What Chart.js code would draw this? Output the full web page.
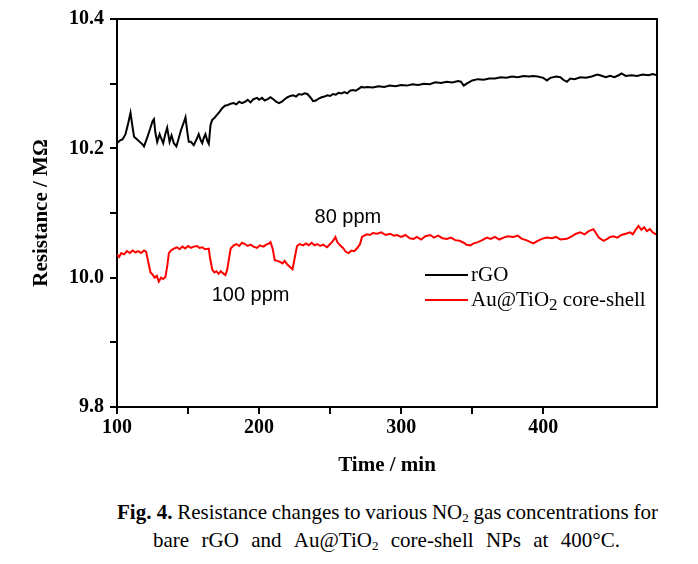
<!DOCTYPE html>
<html>
<head>
<meta charset="utf-8">
<script src="https://cdn.jsdelivr.net/npm/chart.js@4.4.1/dist/chart.umd.min.js"></script>
<style>
    body { margin: 0; background: #fff; }
    #wrap { position: relative; width: 698px; height: 564px; }
    #resistanceChart { position: absolute; left: 0; top: 0; }
    .caption { position: absolute; display: flex; justify-content: space-between; white-space: nowrap;
               font-family: 'Liberation Serif', 'Times New Roman', serif; font-size: 21px; line-height: 28px; color: #000; }
    .caption sub { font-size: 13px; vertical-align: -3px; line-height: 0; }
    #cap1 { left: 117px; top: 498px; width: 541px; }
    #cap2 { left: 153px; top: 526px; width: 467px; }
</style>
</head>
<body>
<div id="wrap">
    <canvas id="resistanceChart" width="698" height="490"></canvas>
    <div class="caption" id="cap1">
        <span><b>Fig.&nbsp;4.</b></span><span>Resistance</span><span>changes</span><span>to</span><span>various</span>
        <span>NO<sub>2</sub></span><span>gas</span><span>concentrations</span><span>for</span>
    </div>
    <div class="caption" id="cap2">
        <span>bare</span><span>rGO</span><span>and</span><span>Au@TiO<sub>2</sub></span><span>core-shell</span>
        <span>NPs</span><span>at</span><span>400°C.</span>
    </div>
</div>
<script>
// rGO trace (time in min, resistance in MOhm)
const rgoTime = [100, 102, 104, 106, 108, 109.5, 111, 112, 114, 116, 118, 119, 121, 123, 125, 126, 127, 128.3, 130, 131,
    132.5, 134, 135.3, 137, 138.4, 140, 141.8, 143, 145, 147, 148.2, 149.5, 150.5, 152, 154, 156, 157.5, 159, 160, 161,
    162.2, 163.5, 164.6, 165.8, 167, 168.5, 170.5, 172, 174, 176, 178, 180, 182, 184, 186, 188, 190, 192, 194, 196,
    198.6, 200, 202, 204, 206, 208, 210, 212, 214, 216, 218, 220, 222, 224, 226, 228, 230, 232, 234, 236,
    238, 240, 242, 244, 246, 248, 250, 252, 254, 256, 258, 260, 262, 264, 266, 268, 270, 272, 274, 276,
    280, 284, 288, 292, 296, 300, 304, 308, 312, 316, 320, 324, 328, 332, 336, 340, 342, 344, 346, 350,
    354, 358, 362, 366, 370, 374, 378, 382, 386, 390, 393, 396, 400, 402.5, 405, 409, 412, 414, 416.6, 419,
    422, 426, 430, 434, 438, 440, 444, 447, 450, 453, 455, 458, 462, 466, 470, 474, 477, 480];
const rgoValue = [10.208, 10.212, 10.214, 10.222, 10.240, 10.255, 10.232, 10.218, 10.214, 10.210, 10.206, 10.203, 10.215, 10.228, 10.242, 10.245, 10.224, 10.210, 10.222, 10.216,
    10.208, 10.222, 10.232, 10.210, 10.220, 10.208, 10.203, 10.212, 10.228, 10.240, 10.248, 10.225, 10.210, 10.210, 10.205, 10.214, 10.222, 10.212, 10.208, 10.216,
    10.222, 10.212, 10.207, 10.236, 10.244, 10.247, 10.252, 10.256, 10.262, 10.266, 10.267, 10.269, 10.270, 10.268, 10.272, 10.270, 10.272, 10.275, 10.271, 10.276,
    10.278, 10.275, 10.278, 10.274, 10.276, 10.279, 10.276, 10.272, 10.270, 10.272, 10.276, 10.279, 10.281, 10.282, 10.280, 10.284, 10.283, 10.285, 10.284, 10.279,
    10.273, 10.274, 10.277, 10.279, 10.280, 10.282, 10.281, 10.284, 10.283, 10.286, 10.285, 10.287, 10.285, 10.289, 10.290, 10.289, 10.292, 10.295, 10.294, 10.295,
    10.294, 10.296, 10.295, 10.297, 10.296, 10.298, 10.297, 10.299, 10.298, 10.300, 10.299, 10.302, 10.301, 10.303, 10.302, 10.304, 10.303, 10.297, 10.300, 10.305,
    10.307, 10.306, 10.308, 10.308, 10.310, 10.309, 10.311, 10.310, 10.312, 10.311, 10.312, 10.311, 10.309, 10.305, 10.309, 10.311, 10.310, 10.306, 10.303, 10.308,
    10.307, 10.310, 10.309, 10.311, 10.314, 10.313, 10.310, 10.312, 10.310, 10.313, 10.316, 10.312, 10.313, 10.312, 10.314, 10.313, 10.315, 10.313];

// Au@TiO2 core-shell trace
const auTime = [100, 101.5, 103, 105, 107, 109, 111, 113, 115, 117, 119, 120.5, 122, 123.6, 125, 126.5, 128, 129.4, 131, 132.5,
    134.1, 135.5, 136.5, 138, 140, 142.3, 144, 146, 148, 150, 152, 154, 156.4, 158, 160, 162, 164.6, 165.5, 167, 168.5,
    170, 171.5, 173, 174.5, 176.3, 177.5, 178.7, 180, 182.2, 184, 186, 188, 190, 192, 194, 196, 198.6, 200.5, 203, 205,
    207, 208, 209.5, 211, 213, 215, 216.5, 218, 220, 222, 223.5, 225, 226.7, 228.5, 231, 233, 235, 237, 239, 241,
    243, 245, 247.8, 250, 252, 253.7, 255, 257, 259, 261, 263, 265, 267, 269.5, 271, 272.4, 274, 276, 278, 280,
    283, 286, 289, 292, 295, 297, 300, 303, 306, 308.7, 311, 314, 317, 320.5, 323, 326, 329, 332.2, 335, 338,
    341, 344, 346, 348.6, 351, 354, 357, 360.3, 363, 366, 369, 372, 375, 379, 382, 385, 388, 391, 393, 396,
    399, 402.5, 406, 409, 412, 416.6, 420, 423, 426, 429, 432, 435.3, 437, 439, 442.4, 445, 447, 449.4, 452, 455,
    458, 461, 463, 465, 467, 469, 471, 472.8, 475, 477, 480];
const auValue = [10.036, 10.032, 10.038, 10.036, 10.041, 10.038, 10.042, 10.039, 10.041, 10.038, 10.042, 10.040, 10.024, 10.008, 10.005, 10.000, 10.003, 9.994, 10.000, 9.998,
    10.001, 10.020, 10.038, 10.042, 10.045, 10.047, 10.044, 10.048, 10.045, 10.049, 10.046, 10.048, 10.049, 10.046, 10.047, 10.044, 10.045, 10.030, 10.013, 10.008,
    10.010, 10.006, 10.010, 10.007, 10.004, 10.012, 10.028, 10.045, 10.050, 10.052, 10.049, 10.054, 10.052, 10.049, 10.051, 10.048, 10.046, 10.050, 10.048, 10.051,
    10.053, 10.055, 10.045, 10.027, 10.026, 10.024, 10.022, 10.026, 10.020, 10.016, 10.013, 10.030, 10.049, 10.052, 10.050, 10.053, 10.050, 10.054, 10.050, 10.052,
    10.049, 10.051, 10.047, 10.052, 10.057, 10.063, 10.055, 10.050, 10.046, 10.040, 10.038, 10.042, 10.041, 10.047, 10.052, 10.063, 10.065, 10.067, 10.066, 10.069,
    10.068, 10.070, 10.066, 10.068, 10.065, 10.066, 10.063, 10.066, 10.061, 10.060, 10.063, 10.059, 10.064, 10.066, 10.062, 10.065, 10.061, 10.060, 10.062, 10.058,
    10.057, 10.054, 10.051, 10.050, 10.053, 10.055, 10.058, 10.062, 10.060, 10.063, 10.059, 10.062, 10.064, 10.063, 10.065, 10.060, 10.058, 10.055, 10.053, 10.057,
    10.060, 10.062, 10.061, 10.063, 10.059, 10.060, 10.064, 10.068, 10.070, 10.067, 10.072, 10.075, 10.069, 10.062, 10.057, 10.060, 10.063, 10.064, 10.062, 10.066,
    10.068, 10.070, 10.067, 10.074, 10.080, 10.074, 10.078, 10.072, 10.075, 10.070, 10.066];

const seriesNames = ['rGO', 'Au@TiO2 core-shell'];
const seriesColors = ['#000000', '#ff0000'];

// text labels placed at data coordinates (time, resistance)
const notes = [
    { text: '100 ppm', t: 194, r: 9.972 },
    { text: '80 ppm', t: 262.5, r: 10.093 }
];

const serif = "'Liberation Serif', 'Times New Roman', serif";

function toPoints(xs, ys) {
    return xs.map((x, i) => ({ x: x, y: ys[i] }));
}

const framePlugin = {
    id: 'frame',
    afterDraw(chart) {
        const ctx = chart.ctx;
        const a = chart.chartArea;
        const xs = chart.scales.x;
        const ys = chart.scales.y;
        ctx.save();
        ctx.strokeStyle = '#000';
        ctx.lineWidth = 2;
        ctx.beginPath();
        ctx.moveTo(a.left, a.top);
        ctx.lineTo(a.right, a.top);
        ctx.lineTo(a.right, a.bottom);
        ctx.stroke();

        // notes
        ctx.fillStyle = '#000';
        ctx.font = "20px 'Liberation Sans', Arial, sans-serif";
        ctx.textAlign = 'center';
        ctx.textBaseline = 'middle';
        notes.forEach(n => {
            ctx.fillText(n.text, xs.getPixelForValue(n.t), ys.getPixelForValue(n.r));
        });

        // legend inside the plot
        const lx = a.left + 308;
        const rows = [a.top + 256, a.top + 281];
        ctx.textAlign = 'left';
        ctx.font = '21px ' + serif;
        rows.forEach((y, i) => {
            ctx.strokeStyle = seriesColors[i];
            ctx.lineWidth = 2;
            ctx.beginPath();
            ctx.moveTo(lx, y);
            ctx.lineTo(lx + 43, y);
            ctx.stroke();
        });
        ctx.fillText('rGO', lx + 46, rows[0]);
        let tx = lx + 46;
        ctx.fillText('Au@TiO', tx, rows[1]);
        tx += ctx.measureText('Au@TiO').width;
        ctx.font = '17px ' + serif;
        ctx.fillText('2', tx, rows[1] + 6);
        tx += ctx.measureText('2').width;
        ctx.font = '21px ' + serif;
        ctx.fillText(' core-shell', tx, rows[1]);
        ctx.restore();
    }
};

const ctx = document.getElementById('resistanceChart').getContext('2d');
const resistanceChart = new Chart(ctx, {
    type: 'line',
    data: {
        datasets: [
            {
                label: seriesNames[0],
                data: toPoints(rgoTime, rgoValue),
                borderColor: seriesColors[0],
                borderWidth: 2,
                pointRadius: 0,
                tension: 0
            },
            {
                label: seriesNames[1],
                data: toPoints(auTime, auValue),
                borderColor: seriesColors[1],
                borderWidth: 2,
                pointRadius: 0,
                tension: 0
            }
        ]
    },
    options: {
        responsive: false,
        animation: false,
        layout: { padding: { top: 19, right: 41, left: 0, bottom: 0 } },
        plugins: {
            legend: { display: false },
            tooltip: { enabled: false }
        },
        scales: {
            x: {
                type: 'linear',
                min: 100,
                max: 480,
                afterFit: s => { s.height = 83; },
                afterBuildTicks: s => { s.ticks = s.ticks.filter(t => t.value % 50 === 0); },
                ticks: {
                    stepSize: 50,
                    padding: 2,
                    color: '#000',
                    font: { family: serif, size: 20, weight: 'bold' },
                    callback: v => (v % 100 === 0 ? v : '')
                },
                grid: { drawOnChartArea: false, color: '#000', lineWidth: 2, tickLength: 7 },
                border: { color: '#000', width: 2 },
                title: {
                    display: true,
                    text: 'Time / min',
                    color: '#000',
                    font: { family: serif, size: 21, weight: 'bold' },
                    padding: { top: 0, bottom: 12 }
                }
            },
            y: {
                min: 9.8,
                max: 10.4,
                afterFit: s => { s.width = 117; },
                ticks: {
                    stepSize: 0.1,
                    padding: 6,
                    color: '#000',
                    font: { family: serif, size: 20, weight: 'bold' },
                    callback: v => (Math.round(v * 10) % 2 === 0 ? v.toFixed(1) : '')
                },
                grid: { drawOnChartArea: false, color: '#000', lineWidth: 2, tickLength: 7 },
                border: { color: '#000', width: 2 },
                title: {
                    display: true,
                    text: 'Resistance / MΩ',
                    color: '#000',
                    font: { family: serif, size: 21, weight: 'bold' },
                    padding: { top: 29, bottom: 0 }
                }
            }
        }
    },
    plugins: [framePlugin]
});
</script>
</body>
</html>
